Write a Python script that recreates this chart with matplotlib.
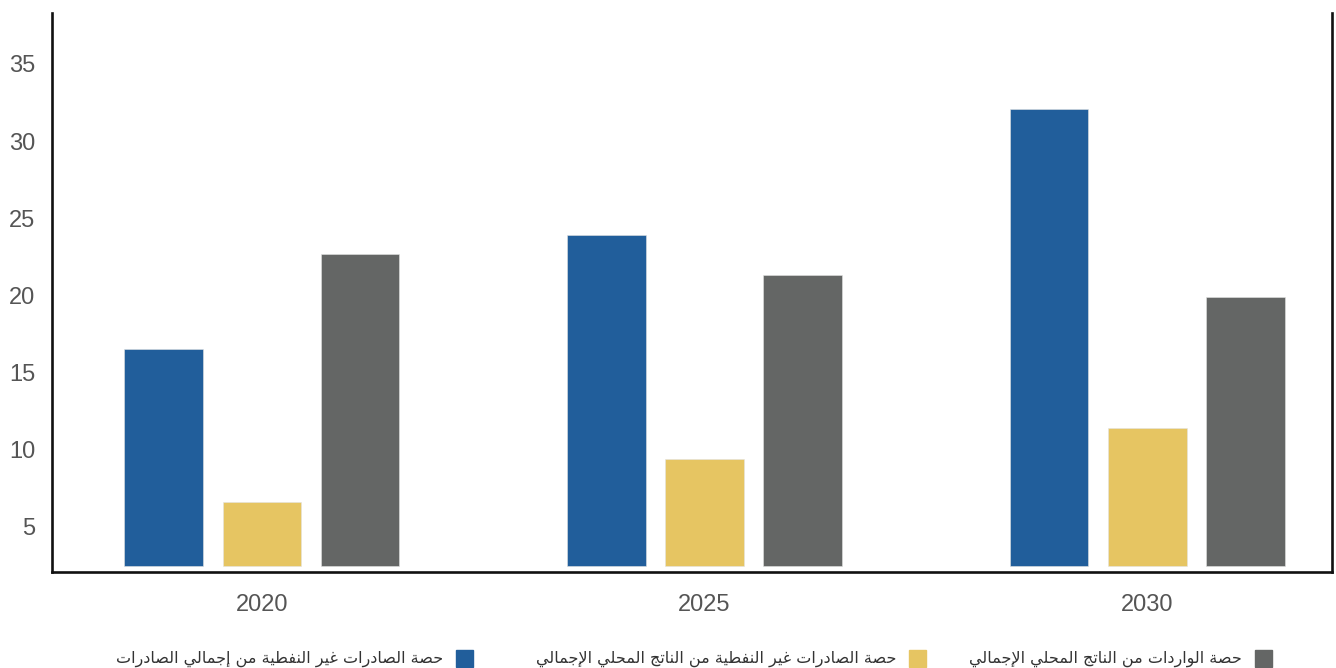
import numpy as np
import matplotlib
matplotlib.use("Agg")
import matplotlib.pyplot as plt
from matplotlib.patches import Rectangle

# data
years = ["2020", "2025", "2030"]
exports_share = [16.5, 23.9, 32.1]      # blue
gdp_share = [6.6, 9.4, 11.4]            # yellow
imports_share = [22.7, 21.3, 19.9]      # gray
yticks = [5, 10, 15, 20, 25, 30, 35]

labels = [
    "حصة الصادرات غير النفطية من إجمالي الصادرات",
    "حصة الصادرات غير النفطية من الناتج المحلي الإجمالي",
    "حصة الواردات من الناتج المحلي الإجمالي",
]
colors = ["#215E9B", "#E6C562", "#646665"]

# --- tiny arabic shaper (matplotlib has no bidi / joining support) ---
FORMS = {
    "\u0627": (0xFE8D, 0xFE8E, None, None),
    "\u0625": (0xFE87, 0xFE88, None, None),
    "\u0629": (0xFE93, 0xFE94, None, None),
    "\u062A": (0xFE95, 0xFE96, 0xFE97, 0xFE98),
    "\u062C": (0xFE9D, 0xFE9E, 0xFE9F, 0xFEA0),
    "\u062D": (0xFEA1, 0xFEA2, 0xFEA3, 0xFEA4),
    "\u062F": (0xFEA9, 0xFEAA, None, None),
    "\u0631": (0xFEAD, 0xFEAE, None, None),
    "\u0635": (0xFEB9, 0xFEBA, 0xFEBB, 0xFEBC),
    "\u0637": (0xFEC1, 0xFEC2, 0xFEC3, 0xFEC4),
    "\u063A": (0xFECD, 0xFECE, 0xFECF, 0xFED0),
    "\u0641": (0xFED1, 0xFED2, 0xFED3, 0xFED4),
    "\u0644": (0xFEDD, 0xFEDE, 0xFEDF, 0xFEE0),
    "\u0645": (0xFEE1, 0xFEE2, 0xFEE3, 0xFEE4),
    "\u0646": (0xFEE5, 0xFEE6, 0xFEE7, 0xFEE8),
    "\u0648": (0xFEED, 0xFEEE, None, None),
    "\u064A": (0xFEF1, 0xFEF2, 0xFEF3, 0xFEF4),
    "LA_H": (0xFEF9, 0xFEFA, None, None),
    "LA": (0xFEFB, 0xFEFC, None, None),
}


def shape(s):
    toks = []
    i = 0
    while i < len(s):
        if s[i] == "\u0644" and i + 1 < len(s) and s[i + 1] in "\u0627\u0625":
            toks.append("LA" if s[i + 1] == "\u0627" else "LA_H")
            i += 2
        else:
            toks.append(s[i])
            i += 1
    out = []
    for j, t in enumerate(toks):
        f = FORMS.get(t)
        if f is None:
            out.append(t)
            continue
        prev = j > 0 and toks[j - 1] in FORMS and FORMS[toks[j - 1]][2] is not None
        nxt = f[2] is not None and j + 1 < len(toks) and toks[j + 1] in FORMS
        if prev and nxt:
            c = f[3]
        elif prev:
            c = f[1]
        elif nxt:
            c = f[2]
        else:
            c = f[0]
        out.append(chr(c))
    return "".join(out)[::-1]


W, H = 1336, 668
fig = plt.figure(figsize=(W / 100, H / 100), dpi=100)
ax = fig.add_axes([52 / W, 1 - 572 / H, (1332 - 52) / W, (572 - 13) / H])

x = np.arange(len(years))
base = 2.45
width = 0.177
offs = [-0.2215, 0.0, 0.2215]
series = [exports_share, gdp_share, imports_share]
for s, o, c in zip(series, offs, colors):
    ax.bar(x + o, np.array(s) - base, width, bottom=base, color=c,
           edgecolor="#e3e3e3", linewidth=0.4)

ax.set_xlim(-0.4736, 2.417)
ax.set_ylim(2.08, 38.3)
ax.set_yticks(yticks)
ax.set_xticks(x)
ax.set_xticklabels(years)

for sp in ["left", "right", "bottom"]:
    ax.spines[sp].set_linewidth(1.9)
    ax.spines[sp].set_color("#111111")
ax.spines["top"].set_visible(False)
ax.tick_params(axis="both", length=0, labelsize=17, labelcolor="#555555")
ax.tick_params(axis="y", pad=12)
ax.tick_params(axis="x", pad=16)
for lab in ax.get_xticklabels() + ax.get_yticklabels():
    lab.set_fontfamily("Liberation Sans")

# legend, right-to-left, squares right of the text
sq_left = [456, 909, 1255]
for lab, c, sx in zip(labels, colors, sq_left):
    fig.patches.append(Rectangle((sx / W, 1 - 667 / H), 17 / W, 17 / H,
                                 transform=fig.transFigure, color=c))
    fig.text((sx - 13) / W, 1 - 659 / H, shape(lab), ha="right", va="center",
             fontsize=11.5, color="#333333", family="DejaVu Sans")

fig.savefig("out.png", dpi=100)
